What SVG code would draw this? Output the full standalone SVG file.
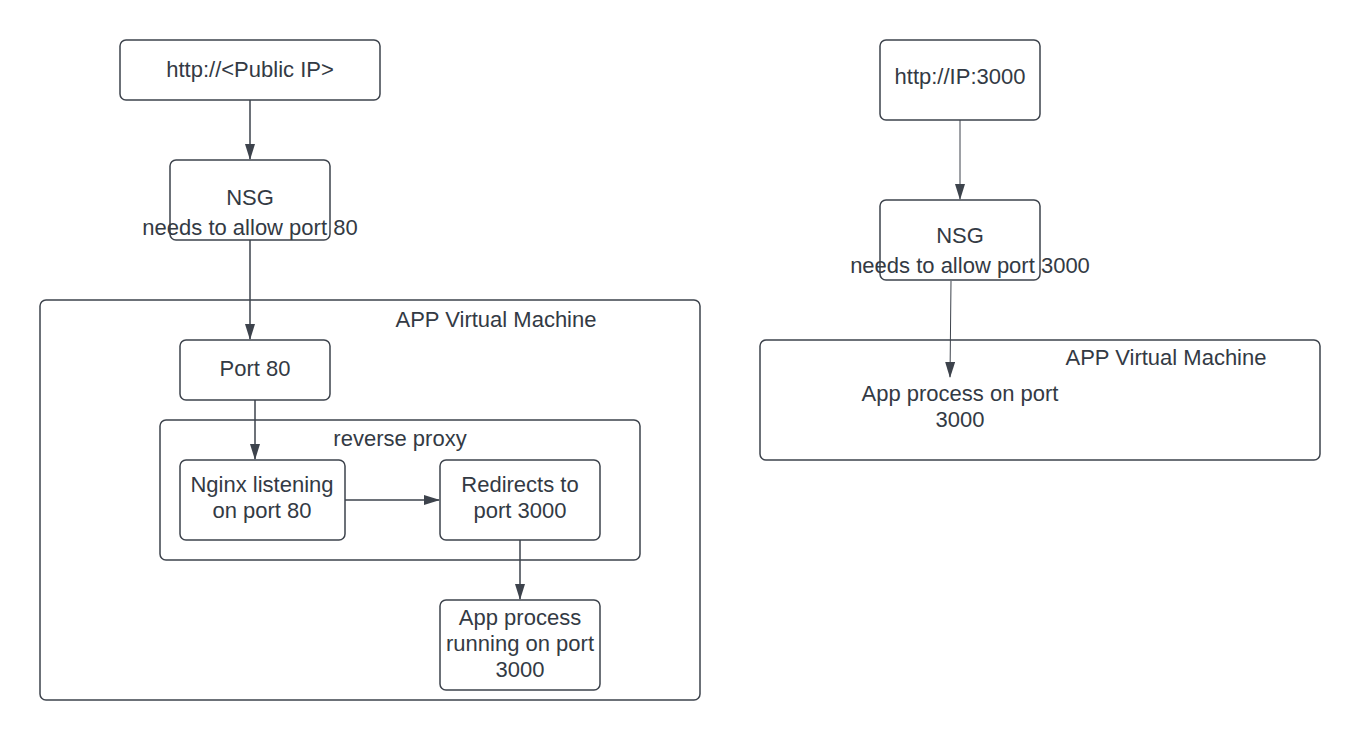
<svg xmlns="http://www.w3.org/2000/svg" width="1360" height="740" viewBox="0 0 1360 740">
<style>
.box{fill:#ffffff;stroke:#3d434c;stroke-width:1.5}
.t{font-family:"Liberation Sans",Arial,sans-serif;font-size:22px;fill:#333a44;text-anchor:middle}
.c{stroke:#3d434c;stroke-width:1.5;fill:none}
.c2{stroke:#3d434c;stroke-width:1;fill:none}
</style>
<defs>
<marker id="ah" markerWidth="16" markerHeight="10" refX="15" refY="5" orient="auto" markerUnits="userSpaceOnUse" viewBox="0 0 16 10">
<path d="M0,0 L16,5 L0,10 z" fill="#3d434c"/>
</marker>
</defs>
<rect width="1360" height="740" fill="#ffffff"/>
<g id="vm-left">
<rect class="box" x="40" y="300" width="660" height="400" rx="6"/>
<text class="t" x="496" y="327">APP Virtual Machine</text>
</g>
<g id="reverse-proxy">
<rect class="box" x="160" y="420" width="480" height="140" rx="6"/>
<text class="t" x="400" y="446">reverse proxy</text>
</g>
<g id="public-ip">
<rect class="box" x="120" y="40" width="260" height="60" rx="6"/>
<text class="t" x="250" y="77">http://&lt;Public IP&gt;</text>
</g>
<g id="nsg-left">
<rect class="box" x="170" y="160" width="160" height="80" rx="6"/>
<text class="t" x="250" y="205">NSG</text>
<text class="t" x="250" y="235">needs to allow port 80</text>
</g>
<g id="port80">
<rect class="box" x="180" y="340" width="150" height="60" rx="6"/>
<text class="t" x="255" y="376">Port 80</text>
</g>
<g id="nginx">
<rect class="box" x="180" y="460" width="165" height="80" rx="6"/>
<text class="t" x="262" y="492">Nginx listening</text>
<text class="t" x="262" y="518">on port 80</text>
</g>
<g id="redirects">
<rect class="box" x="440" y="460" width="160" height="80" rx="6"/>
<text class="t" x="520" y="492">Redirects to</text>
<text class="t" x="520" y="518">port 3000</text>
</g>
<g id="app-left">
<rect class="box" x="440" y="600" width="160" height="90" rx="6"/>
<text class="t" x="520" y="625">App process</text>
<text class="t" x="520" y="651">running on port</text>
<text class="t" x="520" y="677">3000</text>
</g>
<g id="vm-right">
<rect class="box" x="760" y="340" width="560" height="120" rx="6"/>
<text class="t" x="1166" y="365">APP Virtual Machine</text>
<text class="t" x="960" y="401">App process on port</text>
<text class="t" x="960" y="427">3000</text>
</g>
<g id="ip3000">
<rect class="box" x="880" y="40" width="160" height="80" rx="6"/>
<text class="t" x="960" y="84">http://IP:3000</text>
</g>
<g id="nsg-right">
<rect class="box" x="880" y="200" width="160" height="80" rx="6"/>
<text class="t" x="960" y="243">NSG</text>
<text class="t" x="970" y="273">needs to allow port 3000</text>
</g>
<g id="connectors">
<line class="c" x1="250" y1="100" x2="250" y2="159" marker-end="url(#ah)"/>
<line class="c" x1="250" y1="240" x2="250" y2="339" marker-end="url(#ah)"/>
<line class="c" x1="255" y1="400" x2="255" y2="459" marker-end="url(#ah)"/>
<line class="c" x1="345" y1="500" x2="439" y2="500" marker-end="url(#ah)"/>
<line class="c" x1="520" y1="540" x2="520" y2="599" marker-end="url(#ah)"/>
<line class="c2" x1="960" y1="120" x2="960" y2="199" marker-end="url(#ah)"/>
<line class="c2" x1="951" y1="281" x2="950" y2="377" marker-end="url(#ah)"/>
</g>
</svg>
